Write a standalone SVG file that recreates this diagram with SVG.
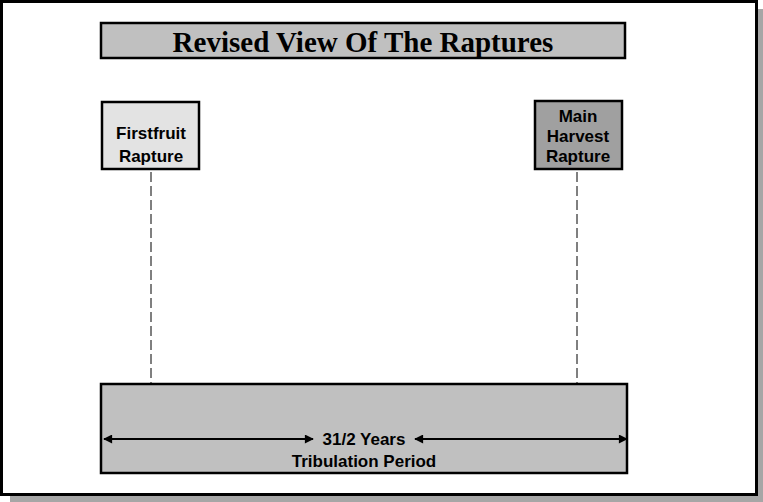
<svg xmlns="http://www.w3.org/2000/svg" width="763" height="502" viewBox="0 0 763 502">
<defs>
<style>
.box{stroke:#000;stroke-width:2.5}
.lbl{font-family:"Liberation Sans",Arial,sans-serif;font-weight:bold;font-size:17px;fill:#000;text-anchor:middle}
.dash{stroke:#000;stroke-width:1;stroke-dasharray:10,4;fill:none}
.arr{stroke:#000;stroke-width:2;fill:none;marker-start:url(#ah);marker-end:url(#ah)}
</style>
<marker id="ah" viewBox="0 0 10 10" refX="9" refY="5" markerWidth="10" markerHeight="9" orient="auto-start-reverse" markerUnits="userSpaceOnUse">
<path d="M0,0 L10,5 L0,10 z" fill="#000"/>
</marker>
</defs>
<rect x="0" y="0" width="763" height="502" fill="#fff"/>
<rect x="10" y="9" width="753" height="493" fill="#a6a6a6"/>
<rect x="1.5" y="1.5" width="755" height="493" fill="#fff" stroke="#000" stroke-width="3"/>
<g id="title">
<rect class="box" x="101" y="23" width="524" height="35" fill="#c0c0c0"/>
<text x="363" y="52" font-family="'Liberation Serif','Times New Roman',serif" font-weight="bold" font-size="29" text-anchor="middle">Revised View Of The Raptures</text>
</g>
<g id="connectors">
<line class="dash" x1="151" y1="172" x2="151" y2="383"/>
<line class="dash" x1="577" y1="172" x2="577" y2="383"/>
</g>
<g id="firstfruit">
<rect class="box" x="102" y="102" width="97" height="67" fill="#e3e3e3"/>
<text class="lbl" x="151" y="139">Firstfruit</text>
<text class="lbl" x="151" y="162">Rapture</text>
</g>
<g id="mainharvest">
<rect class="box" x="535" y="101" width="87" height="68" fill="#a0a0a0"/>
<text class="lbl" x="578" y="122">Main</text>
<text class="lbl" x="578" y="142">Harvest</text>
<text class="lbl" x="578" y="162">Rapture</text>
</g>
<g id="tribulation">
<rect class="box" x="101" y="384" width="526" height="89" fill="#c0c0c0"/>
<line class="arr" x1="104" y1="439" x2="313" y2="439"/>
<line class="arr" x1="415" y1="439" x2="627" y2="439"/>
<text class="lbl" x="364" y="445">31/2 Years</text>
<text class="lbl" x="364" y="467">Tribulation Period</text>
</g>
</svg>
